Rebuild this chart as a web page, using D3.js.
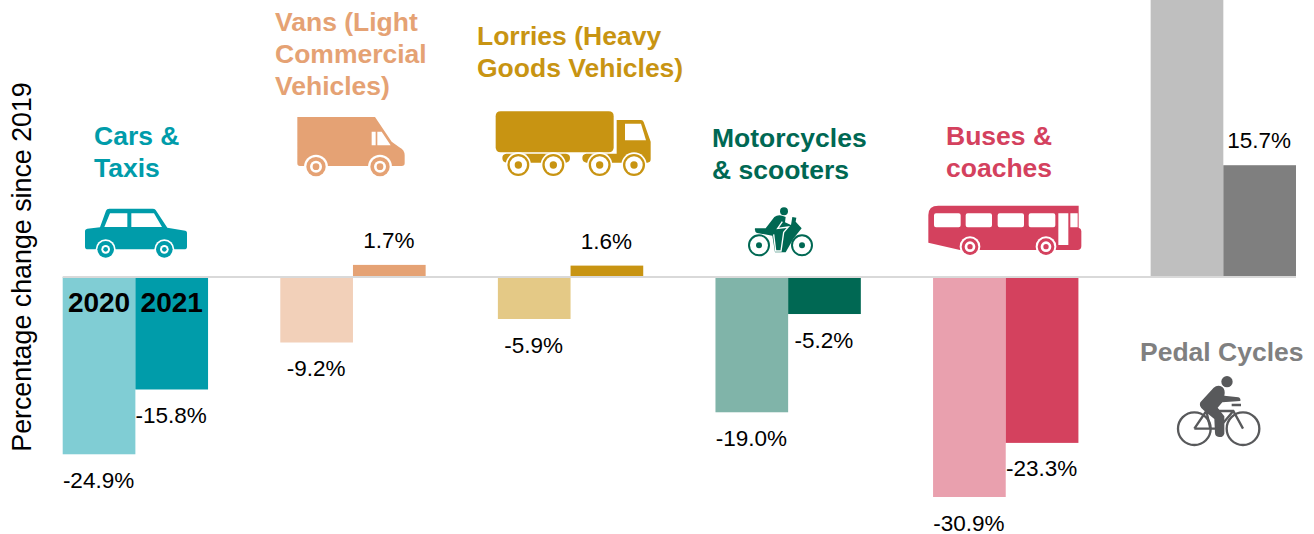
<!DOCTYPE html>
<html lang="en">
  <head>
    <meta charset="UTF-8" />
    <title>Traffic change since 2019 by vehicle type</title>
    <script src="https://d3js.org/d3.v7.min.js"></script>
    <style>
      html, body { margin: 0; background: #fff; overflow: hidden; }
      svg { display: block; }
      text { font-family: 'Liberation Sans', Arial, sans-serif; }
      .value { font-size: 22.5px; fill: #000; text-anchor: middle; }
      .title { font-size: 26.5px; font-weight: bold; }
      .year { font-size: 28px; font-weight: bold; fill: #000; text-anchor: middle; }
    </style>
  </head>
  <body>
    <div id="chart"></div>
    <script>
      const categories = ['Cars & Taxis', 'Vans', 'Lorries', 'Motorcycles', 'Buses', 'Pedal Cycles'];
      const years = ['2020', '2021'];
      const values2020 = [-24.9, -9.2, -5.9, -19.0, -30.9, 45.7]; // pedal 2020 runs off the top of the picture
      const values2021 = [-15.8, 1.7, 1.6, -5.2, -23.3, 15.7];
      const colors2020 = ['#80cdd4', '#f2d0b9', '#e4c986', '#80b4a9', '#e9a0ae', '#bfbfbf'];
      const colors2021 = ['#009caa', '#e5a274', '#c89412', '#006853', '#d4415e', '#7f7f7f'];
      const titleLines = [
        ['Cars &', 'Taxis'],
        ['Vans (Light', 'Commercial', 'Vehicles)'],
        ['Lorries (Heavy', 'Goods Vehicles)'],
        ['Motorcycles', '& scooters'],
        ['Buses &', 'coaches'],
        ['Pedal Cycles'],
      ];

      const width = 1314, height = 534;
      const svg = d3.select('#chart').append('svg')
        .attr('width', width).attr('height', height);

      // scales
      const x = d3.scaleBand().domain(d3.range(categories.length)).range([62.7, 1296]).paddingInner(0.332);
      const xYear = d3.scaleBand().domain(years).range([0, x.bandwidth()]);
      const y = d3.scaleLinear().domain([0, -30.9]).range([277, 497]);

      const rows = categories.flatMap((c, i) => [
        { i, year: '2020', value: values2020[i], color: colors2020[i] },
        { i, year: '2021', value: values2021[i], color: colors2021[i] },
      ]);
      const barX = (d) => x(d.i) + xYear(d.year);

      svg.append('g').selectAll('rect').data(rows).enter().append('rect')
        .attr('x', barX)
        .attr('width', xYear.bandwidth())
        .attr('y', (d) => Math.min(y(d.value), y(0)))
        .attr('height', (d) => Math.abs(y(d.value) - y(0)))
        .attr('fill', (d) => d.color);

      // zero line
      svg.append('line')
        .attr('x1', x(0)).attr('x2', x(5) + x.bandwidth())
        .attr('y1', y(0)).attr('y2', y(0))
        .attr('stroke', '#d9d9d9').attr('stroke-width', 2);

      // value labels
      svg.append('g').selectAll('text')
        .data(rows.filter((d) => y(d.value) > 0))
        .enter().append('text')
        .attr('class', 'value')
        .attr('x', (d) => barX(d) + xYear.bandwidth() / 2 - 0.5)
        .attr('y', (d) => y(d.value) + (d.value < 0 ? 33.5 : -17))
        .text((d) => d.value.toFixed(1) + '%');

      // year labels on the first pair of bars
      svg.append('g').selectAll('text').data(years).enter().append('text')
        .attr('class', 'year')
        .attr('x', (d) => x(0) + xYear(d) + xYear.bandwidth() / 2)
        .attr('y', 312)
        .text((d) => d);

      svg.append('text')
        .attr('transform', 'translate(31,267) rotate(-90)')
        .attr('text-anchor', 'middle')
        .attr('font-size', 26.8)
        .attr('fill', '#000')
        .text('Percentage change since 2019');

      // category titles
      const titlePos = [[94, 145], [275, 31], [477, 45], [712, 147], [946, 145], [1140, 361]];
      titleLines.forEach((lines, i) => {
        const t = svg.append('text').attr('class', 'title').attr('fill', i === 5 ? '#808080' : colors2021[i]);
        lines.forEach((line, k) => {
          t.append('tspan').attr('x', titlePos[i][0]).attr('y', titlePos[i][1] + k * 32).text(line);
        });
      });

      // icons, drawn in 3x space from the top left of each icon box
      function icon(ox, oy, color) {
        return svg.append('g')
          .attr('transform', `translate(${ox},${oy}) scale(${1 / 3})`)
          .attr('fill', color);
      }
      function wheel(g, cx, cy, r, color) {
        // r = [white halo, tyre, white rim, hub]
        [['#fff', r[0]], [color, r[1]], ['#fff', r[2]], [color, r[3]]].forEach(([f, rr]) => {
          g.append('circle').attr('cx', cx).attr('cy', cy).attr('r', rr).attr('fill', f);
        });
      }

      // car
      const car = icon(60, 190, colors2021[0]);
      car.append('path').attr('d', 'M75,122 Q76,117 82,116 L120,112 L138,62 Q140,56 148,56 L278,56 Q284,56 287,60 L322,113 L376,122 Q381,123 381,128 L381,170 Q381,178 372,178 L84,178 Q75,178 75,170 Z');
      car.append('path').attr('fill', '#fff').attr('d', 'M133,111 L150,70 L202,70 L202,111 Z M214,70 L282,70 L306,111 L214,111 Z');
      wheel(car, 137, 178, [30, 25, 13, 7], colors2021[0]);
      wheel(car, 313, 178, [30, 25, 13, 7], colors2021[0]);

      // van
      const van = icon(280, 100, colors2021[1]);
      van.append('path').attr('d', 'M52,51 L285,51 L335,125 L358,142 Q374,150 374,166 L374,190 Q374,198 365,198 L60,198 Q52,198 52,190 Z');
      van.append('path').attr('fill', '#fff').attr('d', 'M275,95 L287,95 L287,136 L275,136 Z M292,95 L305,95 L332,136 L292,136 Z');
      wheel(van, 108, 200, [36, 29, 18, 10], colors2021[1]);
      wheel(van, 300, 200, [36, 29, 18, 10], colors2021[1]);

      // lorry
      const lorry = icon(485, 100, colors2021[2]);
      lorry.append('path').attr('d', 'M32,49 Q32,34 47,34 L371,34 Q386,34 386,49 L386,142 Q386,157 371,157 L47,157 Q32,157 32,142 Z');
      lorry.append('path').attr('d', 'M395,60 L468,60 Q474,60 476,66 L497,125 L497,178 Q497,188 487,188 L304,188 Q292,186 292,174 Q292,162 304,161 L395,161 Z');
      lorry.append('path').attr('d', 'M64,161 L243,161 Q255,162 255,174 Q255,186 243,188 L64,188 Q52,186 52,174 Q52,162 64,161 Z');
      lorry.append('path').attr('fill', '#fff').attr('d', 'M420,71 L468,71 L483,121 L420,121 Z');
      [100, 205, 344, 447].forEach((cx) => wheel(lorry, cx, 195, [38, 33, 26, 11], colors2021[2]));

      // motorcycle
      const moto = icon(735, 195, colors2021[3]);
      [72, 201].forEach((cx) => {
        moto.append('circle').attr('cx', cx).attr('cy', 151).attr('r', 30)
          .attr('fill', 'none').attr('stroke', colors2021[3]).attr('stroke-width', 6);
        moto.append('circle').attr('cx', cx).attr('cy', 151).attr('r', 9);
      });
      moto.append('circle').attr('cx', 147).attr('cy', 49).attr('r', 12);
      moto.append('path').attr('d', 'M60,100 L92,100 L118,66 Q128,58 142,62 L152,66 L150,82 L168,90 L172,66 L184,68 L182,80 L200,100 L176,130 L152,172 L120,172 L112,122 L66,114 Q58,110 60,100 Z');
      moto.append('path').attr('fill', 'none').attr('stroke', '#fff').attr('stroke-width', 4)
        .attr('d', 'M142,80 L128,100 L160,96 L146,112 L138,168 L122,168 L116,118');

      // bus
      const bus = icon(920, 195, colors2021[4]);
      bus.append('path').attr('d', 'M25,60 Q25,32 55,32 L476,32 L476,98 Q484,100 484,108 L484,154 Q484,165 472,165 L120,165 L25,143 Z');
      bus.append('path').attr('fill', '#fff').attr('d', 'M48,55 L116,55 Q122,55 122,61 L122,91 Q122,97 116,97 L48,97 Q42,97 42,91 L42,61 Q42,55 48,55 Z M143,55 L210,55 Q216,55 216,61 L216,91 Q216,97 210,97 L143,97 Q137,97 137,91 L137,61 Q137,55 143,55 Z M239,55 L306,55 Q312,55 312,61 L312,91 Q312,97 306,97 L239,97 Q233,97 233,91 L233,61 Q233,55 239,55 Z M332,55 L400,55 Q406,55 406,61 L406,91 Q406,97 400,97 L332,97 Q326,97 326,91 L326,61 Q326,55 332,55 Z M415,55 L445,55 L445,150 L415,150 Z M451,55 L473,55 L473,97 L451,97 Z');
      wheel(bus, 150, 155, [31, 25, 16, 8], colors2021[4]);
      wheel(bus, 378, 155, [31, 25, 16, 8], colors2021[4]);

      // pedal cycle
      const bikeColor = '#58595b';
      const bike = icon(1165, 365, bikeColor);
      [88, 234].forEach((cx) => {
        bike.append('circle').attr('cx', cx).attr('cy', 191).attr('r', 49)
          .attr('fill', 'none').attr('stroke', bikeColor).attr('stroke-width', 7);
      });
      bike.append('circle').attr('cx', 186).attr('cy', 50).attr('r', 17);
      bike.append('path').attr('d', 'M106,112 L146,68 Q158,58 172,66 Q182,74 178,92 L220,97 Q228,100 226,108 L172,112 L158,128 L178,154 L178,206 Q174,218 162,216 Q150,214 150,204 L148,162 L116,136 Q100,124 106,112 Z');
      bike.append('path').attr('fill', 'none').attr('stroke', bikeColor).attr('stroke-width', 7)
        .attr('d', 'M88,191 L124,138 L205,138 L234,191 M88,191 L160,191 L205,138 M124,138 L136,191 M200,120 L228,120');
    </script>
  </body>
</html>
